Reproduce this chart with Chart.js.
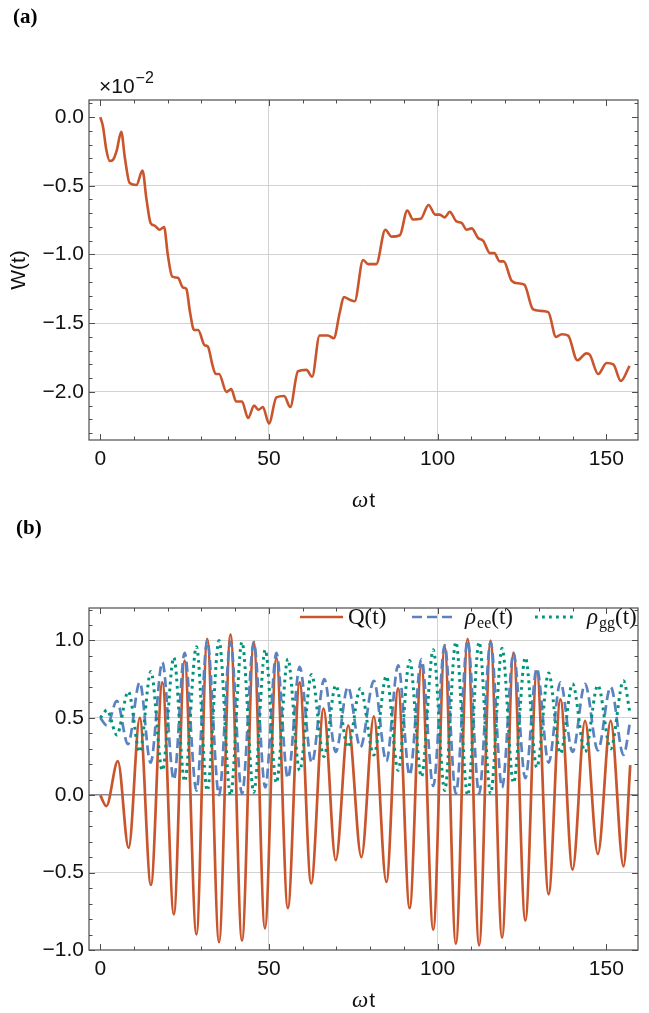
<!DOCTYPE html>
<html>
<head>
<meta charset="utf-8">
<script src="https://cdn.jsdelivr.net/npm/chart.js@4.4.0/dist/chart.umd.min.js"></script>
<style>
html, body { margin: 0; padding: 0; background: #fff; }
#wrap { position: relative; width: 649px; height: 1013px; }
.panel { position: absolute; left: 0; width: 649px; }
#pa { top: 0; height: 520px; }
#pb { top: 520px; height: 493px; }
</style>
</head>
<body>
<div id="wrap">
  <div class="panel" id="pa"><canvas id="chartA"></canvas></div>
  <div class="panel" id="pb"><canvas id="chartB"></canvas></div>
</div>
<script>
// ─── Data ─────────────────────────────────────────────
const xTicks = [0, 50, 100, 150];
const wTicks = [0, -0.5, -1.0, -1.5, -2.0];
const bTicks = [1.0, 0.5, 0, -0.5, -1.0];

// panel (a): W(t), in units of 10^-2
const wT = [0, 0.8, 1.8, 2.8, 3.8, 4.9, 6.2, 7.3, 8.7, 10.7, 12.5, 13.7, 14.9, 16.1, 17.6, 18.9,
  20.0, 21.3, 23.0, 24.5, 25.5, 26.6, 27.8, 29.0, 30.9, 31.9, 33.2, 34.2, 35.2, 37.4, 38.8,
  40.3, 42.0, 43.8, 45.6, 46.9, 48.2, 50.0, 52.2, 54.5, 56.3, 58.6, 61.1, 62.8, 65.0, 67.5,
  69.2, 71.0, 72.2, 74.0, 75.4, 77.9, 79.4, 81.8, 84.5, 86.3, 88.8, 91.0, 92.7, 95.0, 97.3,
  99.3, 100.6, 102.1, 103.6, 105.6, 107.1, 108.6, 110.1, 112.0, 113.5, 115.5, 116.8, 118.4,
  119.6, 121.9, 123.9, 125.7, 128.3, 130.3, 132.8, 135.1, 136.8, 138.7, 141.4, 144.1, 145.1,
  147.6, 150.1, 152.1, 154.3, 156.9];
const wVals = [0, -0.07, -0.24, -0.32, -0.31, -0.24, -0.107, -0.30, -0.48, -0.495, -0.39, -0.60,
  -0.77, -0.79, -0.82, -0.80, -1.00, -1.16, -1.17, -1.24, -1.25, -1.42, -1.55, -1.55, -1.66,
  -1.67, -1.80, -1.87, -1.87, -2.00, -1.98, -2.07, -2.07, -2.19, -2.10, -2.13, -2.11, -2.23,
  -2.04, -2.03, -2.11, -1.85, -1.84, -1.89, -1.59, -1.59, -1.61, -1.42, -1.31, -1.33, -1.34,
  -1.04, -1.07, -1.07, -0.82, -0.87, -0.86, -0.68, -0.745, -0.74, -0.64, -0.71, -0.71, -0.73,
  -0.69, -0.76, -0.77, -0.82, -0.81, -0.88, -0.90, -0.99, -0.99, -1.05, -1.05, -1.19, -1.21,
  -1.22, -1.40, -1.41, -1.42, -1.60, -1.58, -1.59, -1.77, -1.72, -1.73, -1.87, -1.79, -1.80,
  -1.92, -1.81];

// panel (b): Q(t), rho_ee(t), rho_gg(t) (turning points)
const qT = [0, 1.8, 5.2, 8.4, 11.7, 15.0, 18.4, 21.8, 25.0, 28.5, 31.7, 35.2, 38.6, 42.0, 45.5,
  48.8, 52.2, 55.6, 59.1, 62.5, 66.2, 69.8, 73.5, 77.4, 81.1, 84.8, 88.3, 91.7, 95.2, 98.7,
  102.1, 105.4, 108.9, 112.3, 115.7, 119.1, 122.5, 126.0, 129.4, 132.9, 136.4, 140.0, 143.7,
  147.5, 151.3, 155.1, 157.1];
const qVals = [0, -0.07, 0.22, -0.34, 0.50, -0.58, 0.73, -0.77, 0.87, -0.90, 1.01, -0.95, 1.04,
  -0.94, 0.99, -0.86, 0.89, -0.73, 0.73, -0.57, 0.56, -0.42, 0.45, -0.40, 0.51, -0.56, 0.69,
  -0.73, 0.84, -0.87, 0.96, -0.96, 1.01, -0.97, 1.00, -0.92, 0.92, -0.81, 0.80, -0.64, 0.62,
  -0.48, 0.48, -0.38, 0.48, -0.46, 0.195];

const eeT = [0, 2.0, 4.9, 8.2, 11.7, 14.9, 18.4, 21.8, 25.0, 28.5, 31.7, 35.2, 38.6, 42.0, 45.5,
  48.9, 52.2, 55.6, 59.1, 62.7, 66.4, 69.8, 73.4, 77.1, 81.1, 84.8, 88.3, 91.7, 95.2, 98.7,
  102.1, 105.4, 108.9, 112.3, 115.7, 119.1, 122.5, 126.0, 129.4, 132.9, 136.4, 140.0, 143.7,
  147.5, 151.3, 155.1, 157.1];
const eeVals = [0.50, 0.45, 0.61, 0.33, 0.73, 0.21, 0.86, 0.10, 0.92, 0.03, 1.00, 0.00, 0.99,
  0.01, 0.99, 0.05, 0.92, 0.11, 0.83, 0.21, 0.75, 0.28, 0.70, 0.31, 0.74, 0.22, 0.84, 0.13,
  0.88, 0.06, 0.97, 0.01, 1.00, 0.01, 0.99, 0.05, 0.92, 0.11, 0.82, 0.21, 0.73, 0.28, 0.72,
  0.29, 0.70, 0.26, 0.48];

const ggT = [0, 2.0, 4.9, 8.3, 11.7, 15.0, 18.4, 21.8, 25.0, 28.5, 31.7, 35.2, 38.6, 42.0, 45.5,
  48.9, 52.2, 55.6, 59.1, 62.6, 66.3, 69.8, 73.4, 77.1, 81.1, 84.8, 88.3, 91.7, 95.2, 98.7,
  102.1, 105.4, 108.9, 112.3, 115.7, 119.1, 122.5, 126.0, 129.4, 132.9, 136.4, 140.0, 143.7,
  147.5, 151.3, 155.1, 157.1];
const ggVals = [0.50, 0.55, 0.39, 0.67, 0.28, 0.80, 0.16, 0.89, 0.09, 0.96, 0.03, 1.00, 0.00,
  0.99, 0.02, 0.94, 0.08, 0.88, 0.16, 0.78, 0.25, 0.71, 0.31, 0.69, 0.26, 0.77, 0.16, 0.87,
  0.12, 0.94, 0.03, 0.99, 0.00, 0.99, 0.01, 0.95, 0.08, 0.89, 0.18, 0.79, 0.27, 0.72, 0.28,
  0.71, 0.30, 0.74, 0.52];

// ─── Style ────────────────────────────────────────────
const SANS  = "'Liberation Sans', Arial, sans-serif";
const SERIF = "'Liberation Serif', 'Times New Roman', serif";
const FRAME = '#4d4d4d';
const GRID  = '#d2d2d2';
const C_Q   = '#c9552c';
const C_EE  = '#5b82c0';
const C_GG  = '#00957a';

const pts = (xs, ys) => xs.map((x, i) => ({ x, y: ys[i] }));
const fmtTick = v => (Math.abs(v) < 1e-9 ? '0.0' : v.toFixed(1)).replace('-', '\u2212');

// ─── Frame with inward ticks (Mathematica style) ──────
const frameTicks = {
  id: 'frameTicks',
  afterDatasetsDraw(chart) {
    const { ctx, chartArea: a, scales: { x, y } } = chart;
    ctx.save();
    ctx.strokeStyle = FRAME;
    ctx.lineWidth = 1;
    const seg = (x1, y1, x2, y2) => { ctx.beginPath(); ctx.moveTo(x1, y1); ctx.lineTo(x2, y2); ctx.stroke(); };
    for (let v = 0; v <= x.max; v += 10) {
      const px = Math.round(x.getPixelForValue(v)) + 0.5;
      const len = v % 50 === 0 ? 6 : 3.5;
      seg(px, a.bottom, px, a.bottom - len);
      seg(px, a.top, px, a.top + len);
    }
    for (let k = Math.ceil(y.min * 10 - 1e-6); k <= Math.floor(y.max * 10 + 1e-6); k++) {
      const py = Math.round(y.getPixelForValue(k / 10)) + 0.5;
      const len = k % 5 === 0 ? 6 : 3.5;
      seg(a.left, py, a.left + len, py);
      seg(a.right, py, a.right - len, py);
    }
    ctx.lineWidth = 1.2;
    ctx.strokeRect(a.left, a.top, a.right - a.left, a.bottom - a.top);
    ctx.restore();
  }
};

function drawOmegaT(ctx, cx, cy) {
  ctx.save();
  ctx.fillStyle = '#111';
  ctx.textBaseline = 'alphabetic';
  ctx.font = 'italic 23px ' + SERIF;
  const w1 = ctx.measureText('\u03c9').width;
  ctx.font = '21px ' + SANS;
  const w2 = ctx.measureText('t').width;
  let x0 = cx - (w1 + w2 + 1) / 2;
  ctx.font = 'italic 23px ' + SERIF;
  ctx.fillText('\u03c9', x0, cy + 7);
  ctx.font = '21px ' + SANS;
  ctx.fillText('t', x0 + w1 + 1, cy + 7);
  ctx.restore();
}

// ─── Panel (a) texts ──────────────────────────────────
const textsA = {
  id: 'textsA',
  afterDraw(chart) {
    const { ctx, chartArea: a } = chart;
    ctx.save();
    ctx.fillStyle = '#000';
    ctx.font = 'bold 21px ' + SERIF;
    ctx.textBaseline = 'alphabetic';
    ctx.fillText('(a)', 13, 23);

    ctx.fillStyle = '#111';
    ctx.font = '21px ' + SANS;
    ctx.fillText('\u00d710', 99, 93);
    const w = ctx.measureText('\u00d710').width;
    ctx.font = '16px ' + SANS;
    ctx.fillText('\u22122', 99 + w + 1, 83);

    ctx.save();
    ctx.translate(25, (a.top + a.bottom) / 2);
    ctx.rotate(-Math.PI / 2);
    ctx.textAlign = 'center';
    ctx.font = '21px ' + SANS;
    ctx.fillText('W(t)', 0, 0);
    ctx.restore();

    drawOmegaT(ctx, (a.left + a.right) / 2, 500);
    ctx.restore();
  }
};

// ─── Panel (b) texts + legend ─────────────────────────
const textsB = {
  id: 'textsB',
  afterDraw(chart) {
    const { ctx, chartArea: a } = chart;
    ctx.save();
    ctx.fillStyle = '#000';
    ctx.font = 'bold 21px ' + SERIF;
    ctx.textBaseline = 'alphabetic';
    ctx.fillText('(b)', 16, 14);

    drawOmegaT(ctx, (a.left + a.right) / 2, 480);

    // legend
    const ly = 97;
    const sample = (x1, x2, color, dash, width) => {
      ctx.save();
      ctx.strokeStyle = color;
      ctx.lineWidth = width;
      ctx.setLineDash(dash);
      ctx.beginPath(); ctx.moveTo(x1, ly); ctx.lineTo(x2, ly); ctx.stroke();
      ctx.restore();
    };
    sample(300, 343, C_Q, [], 2.6);
    sample(412, 455, C_EE, [10, 5], 2.6);
    sample(535, 577, C_GG, [2.8, 4.2], 2.8);

    ctx.fillStyle = '#111';
    const base = ly + 7;
    ctx.font = '23px ' + SERIF;
    ctx.fillText('Q(t)', 348, base);

    const rho = (x0, sub) => {
      ctx.font = 'italic 23px ' + SERIF;
      ctx.fillText('\u03c1', x0, base);
      let x = x0 + ctx.measureText('\u03c1').width + 1;
      ctx.font = '16px ' + SERIF;
      ctx.fillText(sub, x, base + 4);
      x += ctx.measureText(sub).width;
      ctx.font = '23px ' + SERIF;
      ctx.fillText('(t)', x, base);
    };
    rho(465, 'ee');
    rho(587, 'gg');
    ctx.restore();
  }
};

// ─── Shared scale / option builders ───────────────────
function xScale(height) {
  return {
    type: 'linear',
    min: -3.35,
    max: 159.4,
    afterBuildTicks: s => { s.ticks = xTicks.map(value => ({ value })); },
    afterFit: s => { s.height = height; },
    border: { display: false },
    grid: {
      drawTicks: false,
      color: c => (c.tick && (c.tick.value === 50 || c.tick.value === 100)) ? GRID : 'rgba(0,0,0,0)',
      lineWidth: 1,
    },
    ticks: {
      padding: 7,
      color: '#111',
      font: { family: SANS, size: 21 },
      maxRotation: 0,
      callback: v => String(v),
    },
  };
}

function yScale(min, max, tickVals, gridColor) {
  return {
    type: 'linear',
    min, max,
    afterBuildTicks: s => { s.ticks = tickVals.map(value => ({ value })); },
    afterFit: s => { s.width = 89; },
    border: { display: false },
    grid: { drawTicks: false, color: gridColor, lineWidth: c => (c.tick && c.tick.value === 0 ? 1.6 : 1) },
    ticks: {
      padding: 5,
      color: '#111',
      font: { family: SANS, size: 21 },
      callback: v => fmtTick(v),
    },
  };
}

const baseOpts = {
  responsive: true,
  maintainAspectRatio: false,
  animation: false,
  parsing: false,
  elements: { point: { radius: 0 }, line: { cubicInterpolationMode: 'monotone' } },
  plugins: { legend: { display: false }, tooltip: { enabled: false } },
};

// ─── Chart (a) ────────────────────────────────────────
new Chart(document.getElementById('chartA'), {
  type: 'line',
  data: {
    datasets: [{
      data: pts(wT, wVals),
      borderColor: C_Q,
      borderWidth: 2.6,
      fill: false,
    }],
  },
  options: {
    ...baseOpts,
    layout: { padding: { top: 100, right: 11, left: 0, bottom: 0 } },
    scales: {
      x: xScale(80),
      y: yScale(-2.35, 0.124, wTicks, c => (c.tick && c.tick.value === 0) ? 'rgba(0,0,0,0)' : GRID),
    },
  },
  plugins: [frameTicks, textsA],
});

// ─── Chart (b) ────────────────────────────────────────
new Chart(document.getElementById('chartB'), {
  type: 'line',
  data: {
    datasets: [
      { label: 'Q(t)', data: pts(qT, qVals), borderColor: C_Q, borderWidth: 2.7, fill: false, order: 3 },
      { label: '\u03c1ee(t)', data: pts(eeT, eeVals), borderColor: C_EE, borderWidth: 2.7,
        borderDash: [10, 5], fill: false, order: 2 },
      { label: '\u03c1gg(t)', data: pts(ggT, ggVals), borderColor: C_GG, borderWidth: 3,
        borderDash: [2.8, 4.2], fill: false, order: 1 },
    ],
  },
  options: {
    ...baseOpts,
    layout: { padding: { top: 88, right: 11, left: 0, bottom: 0 } },
    scales: {
      x: xScale(63),
      y: yScale(-1.0, 1.21, bTicks, c => {
        if (!c.tick) return GRID;
        if (c.tick.value === 0) return '#8a8a8a';
        if (c.tick.value === -1) return 'rgba(0,0,0,0)';
        return GRID;
      }),
    },
  },
  plugins: [frameTicks, textsB],
});
</script>
</body>
</html>
